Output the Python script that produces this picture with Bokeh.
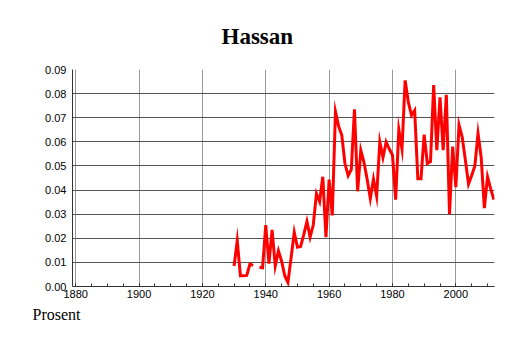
from bokeh.plotting import figure
from bokeh.models import FixedTicker, NumeralTickFormatter, Range1d, Title
from bokeh.embed import file_html
from bokeh.resources import INLINE
import numpy as np

years = list(range(1930, 2013))
values = [
    0.0085, 0.0190, 0.0045, 0.0045, 0.0046, 0.0093, 0.0088, np.nan, 0.0080, 0.0078,  # 1930-1939
    0.0255, 0.0095, 0.0235, 0.0085, 0.0148, 0.0105, 0.0045, 0.0017, 0.0120, 0.0225,  # 1940-1949
    0.0163, 0.0166, 0.0215, 0.0270, 0.0205, 0.0255, 0.0385, 0.0352, 0.0455, 0.0205,  # 1950-1959
    0.0443, 0.0295, 0.0725, 0.0665, 0.0627, 0.0510, 0.0460, 0.0485, 0.0735, 0.0395,  # 1960-1969
    0.0565, 0.0515, 0.0445, 0.0365, 0.0445, 0.0375, 0.0600, 0.0535, 0.0600, 0.0570,  # 1970-1979
    0.0545, 0.0360, 0.0650, 0.0570, 0.0855, 0.0765, 0.0710, 0.0730, 0.0447, 0.0447,  # 1980-1989
    0.0630, 0.0510, 0.0518, 0.0835, 0.0565, 0.0785, 0.0565, 0.0795, 0.0300, 0.0580,  # 1990-1999
    0.0412, 0.0670, 0.0620, 0.0525, 0.0425, 0.0460, 0.0500, 0.0635, 0.0535, 0.0325,  # 2000-2009
    0.0455, 0.0405, 0.0360,                                                          # 2010-2012
]
x_ticks = [1880, 1900, 1920, 1940, 1960, 1980, 2000]
y_ticks = [0.00, 0.01, 0.02, 0.03, 0.04, 0.05, 0.06, 0.07, 0.08, 0.09]
title_text = "Hassan"
ylabel_text = "Prosent"

p = figure(width=514, height=343, output_backend="svg", toolbar_location=None,
           x_range=Range1d(1879.0, 2012.2), y_range=Range1d(0.0, 0.09),
           min_border_left=72, min_border_right=20, min_border_top=69, min_border_bottom=57)
p.outline_line_color = None
p.background_fill_color = "white"
p.border_fill_color = "white"

p.line(years, values, line_color="#ff0000", line_width=3, line_join="miter")

# x axis
p.xaxis.ticker = FixedTicker(ticks=x_ticks, minor_ticks=list(range(1880, 2013, 5)))
p.xaxis.axis_line_color = "#333333"
p.xaxis.major_tick_in = 3
p.xaxis.major_tick_out = 0
p.xaxis.minor_tick_in = 3
p.xaxis.minor_tick_out = 0
p.xaxis.major_tick_line_color = "#333333"
p.xaxis.minor_tick_line_color = "#333333"
p.xaxis.major_label_standoff = 3
p.xaxis.major_label_text_font = "Liberation Sans"
p.xaxis.major_label_text_font_size = "11px"
p.xaxis.major_label_text_color = "black"

# y axis
p.yaxis.ticker = FixedTicker(ticks=y_ticks)
p.yaxis.formatter = NumeralTickFormatter(format="0.00")
p.yaxis.axis_line_color = "#333333"
p.yaxis.major_tick_line_color = None
p.yaxis.minor_tick_line_color = None
p.yaxis.major_tick_out = 0
p.yaxis.major_tick_in = 0
p.yaxis.major_label_standoff = 6
p.yaxis.major_label_text_font = "Liberation Sans"
p.yaxis.major_label_text_font_size = "11px"
p.yaxis.major_label_text_color = "black"

# grids
p.ygrid.grid_line_color = "#555555"
p.ygrid.grid_line_width = 1
p.xgrid.grid_line_color = "#999999"
p.xgrid.grid_line_width = 1

# title and unit label
p.title = Title(text=title_text, align="left", offset=149, text_font="Liberation Serif",
                text_font_style="bold", text_font_size="23px", text_color="black",
                standoff=41)
p.add_layout(Title(text=ylabel_text, align="left", offset=-40, text_font="Liberation Serif",
                   text_font_style="normal", text_font_size="16px", text_color="black",
                   standoff=7), "below")

open("out.html", "w").write(file_html(p, INLINE))
